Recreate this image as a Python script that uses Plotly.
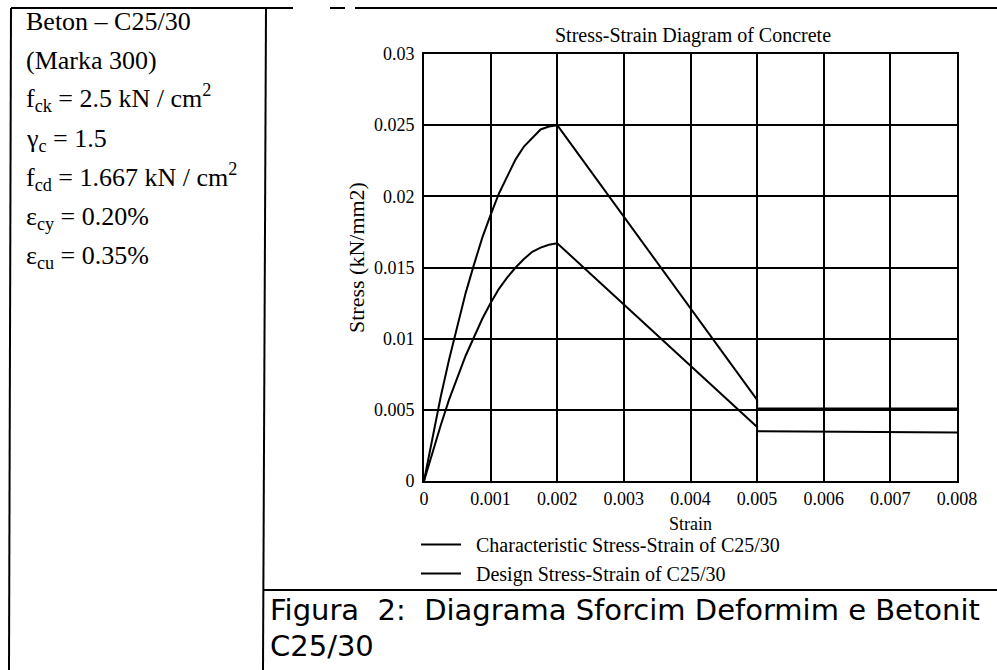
import plotly.graph_objects as go

# ---- data ----
strain_char = [0, 0.000125, 0.00025, 0.000375, 0.0005, 0.000625, 0.00075, 0.000875, 0.001, 0.001125,
               0.00125, 0.001375, 0.0015, 0.001625, 0.00175, 0.001875, 0.002, 0.005, 0.005, 0.008]
stress_char = [0, 0.0030, 0.0059, 0.0085, 0.0109, 0.0132, 0.0152, 0.0171, 0.0187, 0.0202,
               0.0214, 0.0226, 0.0235, 0.0241, 0.0247, 0.0249, 0.025, 0.0057, 0.0051, 0.0051]

strain_design = [0, 0.000125, 0.00025, 0.000375, 0.0005, 0.000625, 0.00075, 0.000875, 0.001, 0.001125,
                 0.00125, 0.001375, 0.0015, 0.001625, 0.00175, 0.001875, 0.002, 0.005, 0.005, 0.008]
stress_design = [0, 0.0020, 0.0039, 0.0057, 0.0073, 0.0088, 0.0101, 0.0114, 0.0125, 0.0135,
                 0.0143, 0.0150, 0.0156, 0.0161, 0.0164, 0.0166, 0.0167, 0.0038, 0.0035, 0.0034]

x_ticks = [0, 0.001, 0.002, 0.003, 0.004, 0.005, 0.006, 0.007, 0.008]
x_ticktext = ["0", "0.001", "0.002", "0.003", "0.004", "0.005", "0.006", "0.007", "0.008"]
y_ticks = [0, 0.005, 0.01, 0.015, 0.02, 0.025, 0.03]
y_ticktext = ["0", "0.005", "0.01", "0.015", "0.02", "0.025", "0.03"]

series_names = ["\u00a0\u00a0Characteristic Stress-Strain of C25/30", "\u00a0\u00a0Design Stress-Strain of C25/30"]

info_lines = [
    "Beton \u2013 C25/30",
    "(Marka 300)",
    "f<sub>ck</sub> = 2.5 kN / cm<sup>2</sup>",
    "\u03b3<sub>c</sub> = 1.5",
    "f<sub>cd</sub> = 1.667 kN / cm<sup>2</sup>",
    "\u03b5<sub>cy</sub> = 0.20%",
    "\u03b5<sub>cu</sub> = 0.35%",
]
caption_lines = ["Figura  2:  Diagrama Sforcim Deformim e Betonit", "C25/30"]

W, H = 997, 670
def px(x):
    return x / W
def py(y):
    return 1 - y / H

SERIF = "Liberation Serif"

fig = go.Figure()
fig.add_trace(go.Scatter(x=strain_char, y=stress_char, mode="lines", name=series_names[0],
                         line=dict(color="black", width=2)))
fig.add_trace(go.Scatter(x=strain_design, y=stress_design, mode="lines", name=series_names[1],
                         line=dict(color="black", width=2)))

axis_common = dict(showgrid=True, gridcolor="black", gridwidth=2, showline=True, linecolor="black",
                   linewidth=2, mirror=True, zeroline=False, ticks="",
                   tickfont=dict(family=SERIF, size=18, color="black"))

fig.update_layout(
    width=W, height=H,
    margin=dict(l=0, r=0, t=0, b=0, autoexpand=False),
    paper_bgcolor="white", plot_bgcolor="white",
    showlegend=True,
    legend=dict(x=px(416), y=py(525), xanchor="left", yanchor="top",
                font=dict(family=SERIF, size=20, color="black"),
                bgcolor="rgba(0,0,0,0)", tracegroupgap=0, itemwidth=40),
    xaxis=dict(domain=[px(424), px(957)], range=[0, 0.008], tickvals=x_ticks, ticktext=x_ticktext,
               ticklabelstandoff=0, **axis_common),
    yaxis=dict(domain=[py(481), py(54)], range=[0, 0.03], tickvals=y_ticks, ticktext=y_ticktext,
               ticklabelstandoff=4, **axis_common),
)

def note(text, x, y, size, family=SERIF, xa="center", ya="middle", angle=0):
    return dict(text=text, x=px(x), y=py(y), xref="paper", yref="paper", xanchor=xa, yanchor=ya,
                textangle=angle, showarrow=False, align="left",
                font=dict(family=family, size=size, color="black"))

ann = []
ann.append(note("Stress-Strain Diagram of Concrete", 693, 35, 20))
ann.append(note("Strain", 690, 524, 18))
ann.append(note("Stress (kN/mm2)", 356, 258, 22, angle=-90))
info_y = [22, 61, 100, 140, 179, 218, 257]
info_off = [16, 16, 18, 18, 18, 18, 18]
for t, yy, off in zip(info_lines, info_y, info_off):
    ann.append(note(t, 24, yy + off, 26, xa="left", ya="bottom"))
for t, yy in zip(caption_lines, [610, 646]):
    ann.append(note(t, 268, yy, 29, family="DejaVu Sans", xa="left"))
fig.update_layout(annotations=ann)

def line(x0, y0, x1, y1, w=2):
    fig.add_shape(type="line", xref="paper", yref="paper", x0=px(x0), y0=py(y0), x1=px(x1), y1=py(y1),
                  line=dict(color="black", width=w))

line(11, 8, 293, 8)
line(330, 8, 345, 8)
line(355, 8, 997, 8)
line(11, 8, 9, 670)
line(266, 8, 263, 670)
line(263, 590, 997, 590)

fig.write_html("out.html",
               post_script="document.documentElement.style.margin='0';document.body.style.margin='0';"
                           "document.documentElement.style.overflow='hidden';document.body.style.overflow='hidden';")
